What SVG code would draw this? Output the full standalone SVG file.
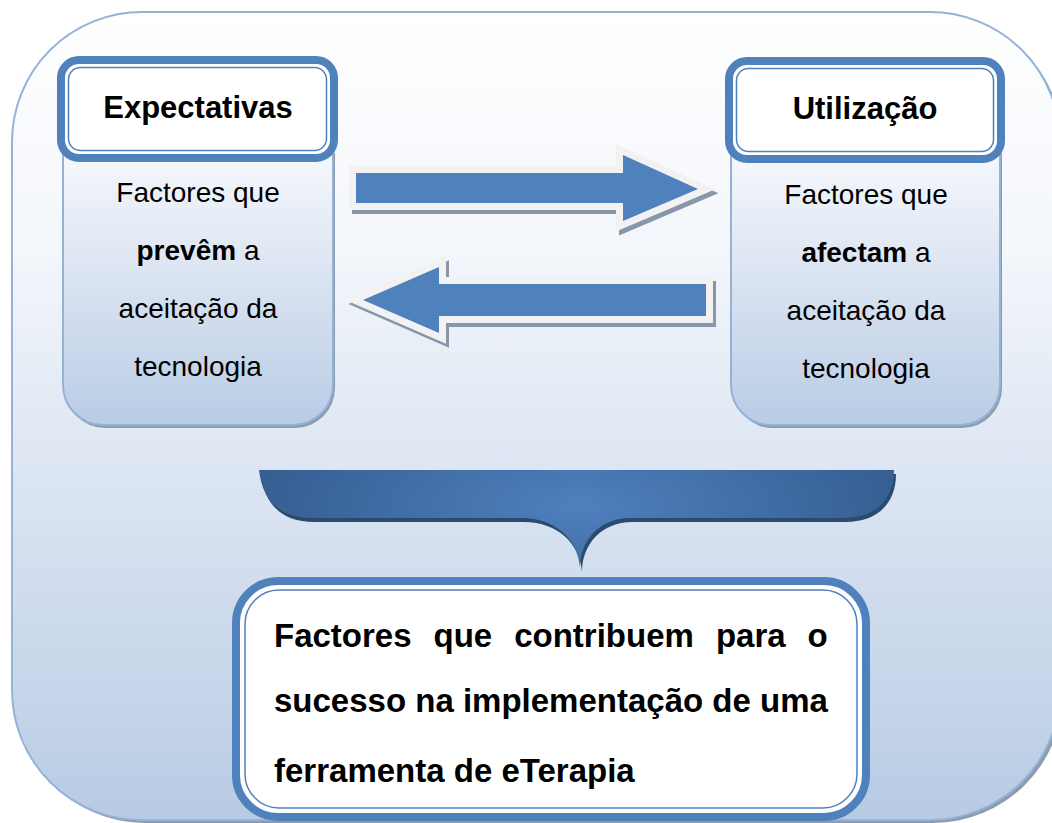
<svg xmlns="http://www.w3.org/2000/svg" width="1052" height="823" viewBox="0 0 1052 823">
<defs>
<linearGradient id="gOuter" x1="0" y1="0" x2="0" y2="1">
<stop offset="0" stop-color="#ffffff"/>
<stop offset="0.3" stop-color="#f3f6fb"/>
<stop offset="1" stop-color="#b8cbe4"/>
</linearGradient>
<linearGradient id="gBody" x1="0" y1="0" x2="0" y2="1">
<stop offset="0" stop-color="#f6f8fc"/>
<stop offset="1" stop-color="#b9cce5"/>
</linearGradient>
<radialGradient id="gBrace" cx="580" cy="505" r="330" gradientUnits="userSpaceOnUse" gradientTransform="translate(580 505) scale(1 0.35) translate(-580 -505)">
<stop offset="0" stop-color="#4f80be"/>
<stop offset="1" stop-color="#355e91"/>
</radialGradient>
<style>
.shadow{fill:#8b9cb1}
.body{fill:url(#gBody);stroke:#94b2d6;stroke-width:2}
.ttl{fill:#ffffff;stroke:#4f81bd;stroke-width:8}
.ttlin{fill:none;stroke:#4f81bd;stroke-width:1.5}
.tt{font-family:"Liberation Sans",Arial,sans-serif;font-weight:bold;font-size:31px;fill:#000;text-anchor:middle}
.bt{font-family:"Liberation Sans",Arial,sans-serif;font-size:28px;fill:#000;text-anchor:middle}
.b{font-weight:bold}
.rt{font-family:"Liberation Sans",Arial,sans-serif;font-weight:bold;font-size:33px;fill:#000}
.arrowBorder{fill:#f2f2f2;stroke:#f2f2f2;stroke-width:14;stroke-linejoin:miter;stroke-miterlimit:10}
.arrowShadow{fill:#8796ab;stroke:#8796ab;stroke-width:14;stroke-linejoin:miter;stroke-miterlimit:10}
.arrowFill{fill:#4f81bd}
</style>
</defs>

<g id="container">
<rect class="shadow" x="15" y="15" width="1048" height="808" rx="130"/>
<rect x="12" y="12" width="1048" height="808" rx="130" fill="url(#gOuter)" stroke="#95b3d7" stroke-width="2"/>
</g>

<g id="connectors">
<g id="arrow-right">
<polygon class="arrowShadow" transform="translate(3,4)" points="356,173 623,173 623,155 698,189 623,221 623,203 356,203"/>
<polygon class="arrowBorder" points="356,173 623,173 623,155 698,189 623,221 623,203 356,203"/>
<polygon class="arrowFill" points="356,173 623,173 623,155 698,189 623,221 623,203 356,203"/>
</g>
<g id="arrow-left">
<polygon class="arrowShadow" transform="translate(3,4)" points="706,284 439,284 439,267 363,300 439,333 439,316 706,316"/>
<polygon class="arrowBorder" points="706,284 439,284 439,267 363,300 439,333 439,316 706,316"/>
<polygon class="arrowFill" points="706,284 439,284 439,267 363,300 439,333 439,316 706,316"/>
</g>
<g id="brace">
<path transform="translate(2,4)" fill="#2b4a70" d="M259,470 L894,470 C894,500 875,518 843,518 L630,518 C600,518 580,540 580,568 C578,540 556,518 522,518 L312,518 C280,518 262,500 259,470 Z"/>
<path fill="url(#gBrace)" d="M259,470 L894,470 C894,500 875,518 843,518 L630,518 C600,518 580,540 580,568 C578,540 556,518 522,518 L312,518 C280,518 262,500 259,470 Z"/>
</g>
</g>

<g id="node-expectativas">
<path class="shadow" transform="translate(2,3)" d="M63,150 H333 V385 A40,40 0 0 1 293,425 H103 A40,40 0 0 1 63,385 Z"/>
<path class="body" d="M63,150 H333 V385 A40,40 0 0 1 293,425 H103 A40,40 0 0 1 63,385 Z"/>
<rect class="ttl" x="61" y="60" width="273" height="98" rx="18"/>
<rect class="ttlin" x="68.5" y="67.5" width="258" height="83" rx="12"/>
<text class="tt" x="198" y="118">Expectativas</text>
<text class="bt" x="198" y="202">Factores que</text>
<text class="bt" x="198" y="260"><tspan class="b">prevêm</tspan> a</text>
<text class="bt" x="198" y="318">aceitação da</text>
<text class="bt" x="198" y="376">tecnologia</text>
</g>

<g id="node-utilizacao">
<path class="shadow" transform="translate(2,3)" d="M731,150 H1000 V385 A40,40 0 0 1 960,425 H771 A40,40 0 0 1 731,385 Z"/>
<path class="body" d="M731,150 H1000 V385 A40,40 0 0 1 960,425 H771 A40,40 0 0 1 731,385 Z"/>
<rect class="ttl" x="729" y="61" width="272" height="98" rx="18"/>
<rect class="ttlin" x="736.5" y="68.5" width="257" height="83" rx="12"/>
<text class="tt" x="865" y="119">Utilização</text>
<text class="bt" x="866" y="204">Factores que</text>
<text class="bt" x="866" y="262"><tspan class="b">afectam</tspan> a</text>
<text class="bt" x="866" y="320">aceitação da</text>
<text class="bt" x="866" y="378">tecnologia</text>
</g>

<g id="node-resultado">
<rect class="ttl" x="236" y="581" width="630" height="236" rx="42"/>
<rect class="ttlin" x="245" y="590" width="612" height="218" rx="34"/>
<text class="rt" y="647"><tspan x="274">Factores</tspan><tspan x="433.5">que</tspan><tspan x="514.2">contribuem</tspan><tspan x="715.9">para</tspan><tspan x="807.6">o</tspan></text>
<text class="rt" x="274" y="712">sucesso na implementação de uma</text>
<text class="rt" x="274" y="782">ferramenta de eTerapia</text>
</g>
</svg>
